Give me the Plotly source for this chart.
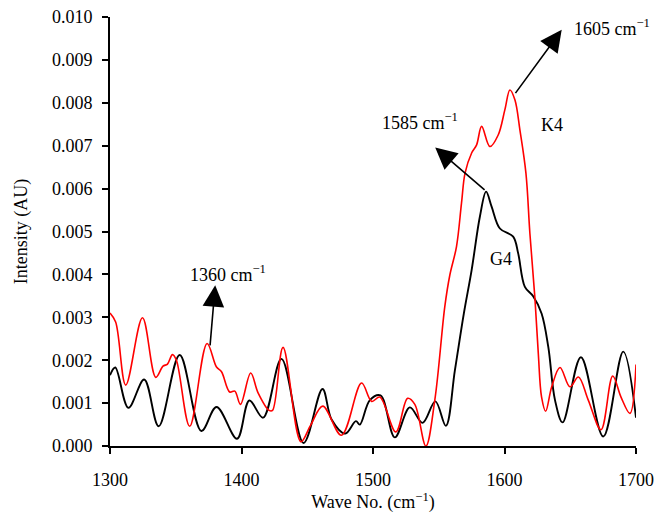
import plotly.graph_objects as go

# G4 (black) spectrum
g4_x = [1300, 1304, 1314, 1326, 1337, 1353, 1369.5, 1381, 1396.6, 1406, 1416.4, 1430.4,
        1447.2, 1461.6, 1468.5, 1479, 1487, 1490, 1497.6, 1505.7, 1516.6, 1528, 1537.7,
        1547.4, 1555.4, 1562.3, 1569.1, 1575, 1581.3, 1586, 1590.2, 1596.5, 1606.6, 1610.4,
        1615.5, 1621.8, 1628.2, 1633.3, 1638.4, 1644.2, 1658.1, 1675.1, 1690.3, 1700]
g4_y = [0.00165, 0.00183, 0.00089, 0.00155, 0.00046, 0.00212, 0.00035, 0.00091, 0.00017,
        0.00106, 0.00066, 0.00203, 0.00007, 0.00133, 0.00062, 0.00029, 0.00058, 0.0005,
        0.00107, 0.00118, 0.0002, 0.0009, 0.00054, 0.00104, 0.00047, 0.00177, 0.00309,
        0.0041, 0.00535, 0.00593, 0.00558, 0.00507, 0.00488, 0.00449, 0.00371, 0.00349,
        0.00309, 0.00231, 0.00107, 0.00055, 0.00207, 0.00022, 0.0022, 0.00066]

# K4 (red) spectrum
k4_x = [1300, 1304.3, 1312, 1324.7, 1334.8, 1340.3, 1343.7, 1347.5, 1350.5, 1360.6, 1373.8,
        1381, 1384.8, 1391, 1394.9, 1399.2, 1407, 1412.6, 1421, 1423.6, 1431.6, 1445.2,
        1452.5, 1461.8, 1476, 1491.3, 1499, 1505.2, 1517.4, 1526.3, 1531.8, 1540.2, 1547,
        1554.6, 1558.4, 1563.5, 1567.3, 1570, 1575, 1578.8, 1582.6, 1588.9, 1595.2, 1600.3,
        1604.1, 1607.9, 1611.7, 1616.3, 1619.3, 1623.1, 1625.7, 1628.2, 1631.3, 1635.9,
        1642.2, 1649.8, 1656.2, 1663.7, 1673.4, 1682.3, 1688.6, 1695.4, 1700]
k4_y = [0.0031, 0.00289, 0.00142, 0.00299, 0.0016, 0.00186, 0.00191, 0.00213, 0.002,
        0.00046, 0.00239, 0.00184, 0.00173, 0.00126, 0.00128, 0.00097, 0.0017, 0.00124,
        0.00083, 0.00083, 0.0023, 0.0001, 0.00048, 0.00093, 0.00025, 0.00147, 0.00104,
        0.00114, 0.00033, 0.00111, 0.00097, 0.0, 0.00107, 0.00325, 0.00398, 0.00465,
        0.00566, 0.00636, 0.00683, 0.00702, 0.00745, 0.00698, 0.00725, 0.00784, 0.0083,
        0.00807, 0.00737, 0.00636, 0.00496, 0.00346, 0.00216, 0.00114, 0.00081, 0.00138,
        0.00183, 0.00138, 0.00161, 0.00107, 0.00038, 0.00163, 0.00114, 0.00076, 0.0019]

x_ticks = [1300, 1400, 1500, 1600, 1700]
y_ticks = [0.000, 0.001, 0.002, 0.003, 0.004, 0.005, 0.006, 0.007, 0.008, 0.009, 0.010]

# peak labels: (text, text x, text y, arrow tail x, tail y, arrow tip x, tip y)
peak_labels = [
    ("1605 cm<sup>\u22121</sup>", 1682, 0.00975, 1607.5, 0.00819, 1643.5, 0.0097),
    ("1585 cm<sup>\u22121</sup>", 1536, 0.00756, 1586, 0.00594, 1547.3, 0.00696),
    ("1360 cm<sup>\u22121</sup>", 1389.5, 0.00401, 1376, 0.00231, 1380, 0.00375),
]
series_labels = [("K4", 1636.3, 0.00748), ("G4", 1597.3, 0.00436)]

FONT = "Liberation Serif"

fig = go.Figure()
fig.add_trace(go.Scatter(x=g4_x, y=g4_y, mode="lines", name="G4",
                         line=dict(color="black", width=1.9, shape="spline", smoothing=1.0)))
fig.add_trace(go.Scatter(x=k4_x, y=k4_y, mode="lines", name="K4",
                         line=dict(color="#ff0000", width=1.6, shape="spline", smoothing=1.0)))

for text, tx, ty, ax, ay, hx, hy in peak_labels:
    fig.add_annotation(x=hx, y=hy, ax=ax, ay=ay, xref="x", yref="y", axref="x", ayref="y",
                       text="", showarrow=True, arrowhead=2, arrowsize=2.7, arrowwidth=1.6,
                       arrowcolor="black", standoff=0)
    fig.add_annotation(x=tx, y=ty, xref="x", yref="y", text=text, showarrow=False,
                       font=dict(family=FONT, size=18, color="black"),
                       xanchor="center", yanchor="middle")
for text, tx, ty in series_labels:
    fig.add_annotation(x=tx, y=ty, xref="x", yref="y", text=text, showarrow=False,
                       font=dict(family=FONT, size=18, color="black"),
                       xanchor="center", yanchor="middle")

fig.update_layout(
    width=657, height=516,
    margin=dict(l=110, r=21, t=17, b=70, autoexpand=False),
    paper_bgcolor="white", plot_bgcolor="white",
    showlegend=False,
    font=dict(family=FONT, size=18, color="black"),
)
fig.update_xaxes(range=[1300, 1700], tickvals=x_ticks, ticktext=[str(v) for v in x_ticks],
                 showline=True, linecolor="black", linewidth=2, ticks="outside",
                 ticklen=6, tickwidth=2, tickcolor="black", showgrid=False, zeroline=False,
                 automargin=False, ticklabelstandoff=10,
                 title=dict(text="Wave No. (cm<sup>\u22121</sup>)", font=dict(family=FONT, size=18),
                            standoff=5),
                 tickfont=dict(family=FONT, size=18))
fig.update_yaxes(range=[0, 0.010], tickvals=y_ticks, ticktext=[f"{v:.3f}" for v in y_ticks],
                 showline=True, linecolor="black", linewidth=2, ticks="outside",
                 ticklen=6, tickwidth=2, tickcolor="black", showgrid=False, zeroline=False,
                 automargin=False, ticklabelstandoff=6,
                 title=dict(text="Intensity (AU)", font=dict(family=FONT, size=18), standoff=20),
                 tickfont=dict(family=FONT, size=18))

fig.write_html("out.html")
